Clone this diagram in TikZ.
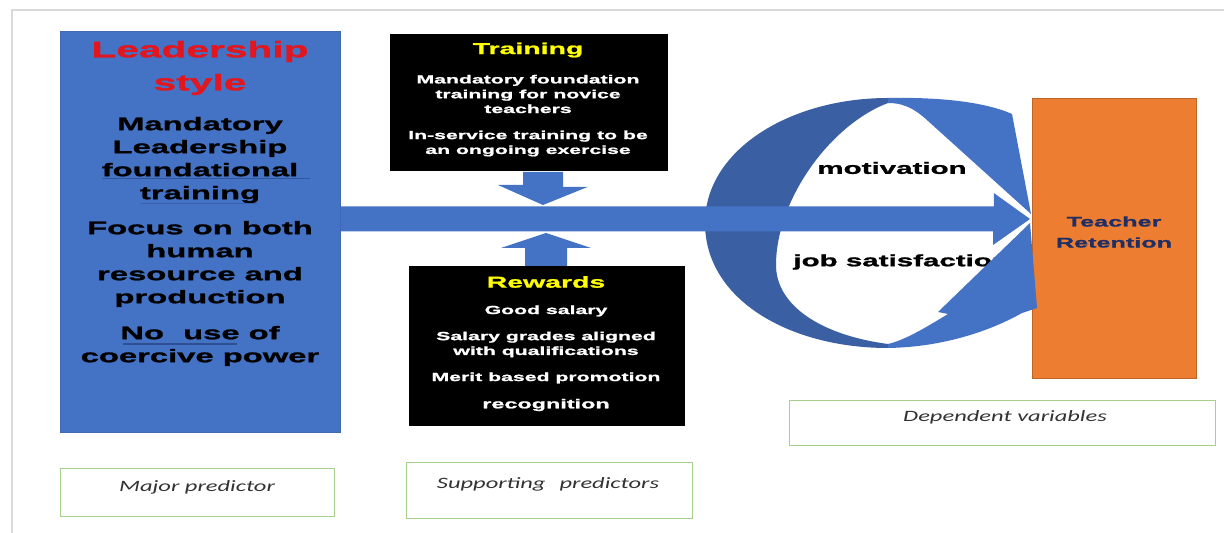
\documentclass[tikz,border=0pt]{standalone}
\usepackage{fontspec}
\usetikzlibrary{calc}
% wide sans faces
\newfontfamily\widesans[FakeStretch=1.8,FakeBold=1.3]{Liberation Sans}
\newfontfamily\wideital[FakeStretch=1.55]{Carlito}
\definecolor{LeadBlue}{HTML}{4472C4}
\definecolor{LeadEdge}{HTML}{3F68B5}
\definecolor{BackBlue}{HTML}{3A60A3}
\definecolor{TitleRed}{HTML}{E2161E}
\definecolor{TrainYellow}{HTML}{FFFF00}
\definecolor{RetOrange}{HTML}{ED7D31}
\definecolor{RetNavy}{HTML}{1F2F66}
\definecolor{TagGreen}{HTML}{A8D08D}
\definecolor{FrameGray}{HTML}{D9D9D9}
\definecolor{LabelGray}{HTML}{333333}
\definecolor{SpellBlue}{HTML}{2E4F92}

\begin{document}
\begin{tikzpicture}[x=0.5pt,y=-0.5pt,
    leadbox/.style={fill=LeadBlue,draw=LeadEdge,line width=0.4pt,anchor=north west},
    blackbox/.style={fill=black,anchor=north west},
    retbox/.style={fill=RetOrange,draw=RetOrange!80!black,line width=0.4pt,anchor=north west},
    tagbox/.style={fill=white,draw=TagGreen,line width=0.7pt,anchor=north west},
    leadtext/.style={inner sep=0pt,align=center,font=\widesans\bfseries\fontsize{9.1}{11.5}\selectfont},
    boxtitle/.style={inner sep=0pt,text=TrainYellow,font=\widesans\bfseries\fontsize{7.9}{9}\selectfont},
    boxtext/.style={inner sep=0pt,align=center,text=white,font=\widesans\bfseries\fontsize{5.9}{7.4}\selectfont},
    looptext/.style={inner sep=0pt,anchor=west,font=\widesans\bfseries\fontsize{8.2}{9}\selectfont},
    tagtext/.style={inner sep=0pt,text=LabelGray,font=\wideital\itshape\fontsize{7.9}{9}\selectfont},
    blockarrow/.style={fill=LeadBlue}
  ]
  \useasboundingbox (0,0) rectangle (1224,533);
  \fill[white] (0,0) rectangle (1224,533);
  \draw[FrameGray,line width=1pt] (12,533) -- (12,10) -- (1224,10);

  % major predictor
  \node[leadbox,minimum width=140pt,minimum height=200.5pt] (lead) at (60,31) {};
  \node[leadtext,text=TitleRed,font=\widesans\bfseries\fontsize{11.3}{16.5}\selectfont]
    (leadttl) at (200,68) {Leadership\\style};
  \node[leadtext] (leada) at (200,160) {Mandatory\\Leadership\\foundational\\training};
  \node[leadtext] (leadb) at (200,264) {Focus on both\\human\\resource and\\production};
  \node[leadtext] (leadc) at (200,346) {No\hspace{5pt} use of\\coercive power};
  \draw[SpellBlue!80!LeadBlue,line width=0.5pt] (102,179) -- (310,179);
  \draw[SpellBlue!50!LeadBlue,line width=0.5pt] (140,204) -- (257,204);
  \draw[SpellBlue,line width=0.6pt] (123,344) -- (237,344);

  % supporting predictors
  \node[blackbox,minimum width=139pt,minimum height=68.5pt] (train) at (390,34) {};
  \node[boxtitle] (trainttl) at (528,50) {Training};
  \node[boxtext] (traina) at (528,94) {Mandatory foundation\\training for novice\\teachers};
  \node[boxtext] (trainb) at (528,143.5) {In-service training to be\\an ongoing exercise};

  \node[blackbox,minimum width=138pt,minimum height=80pt] (reward) at (409,266) {};
  \node[boxtitle] (rewardttl) at (546,282) {Rewards};
  \node[boxtext] (rewarda) at (546,311) {Good salary};
  \node[boxtext] (rewardb) at (546,344.5) {Salary grades aligned\\with qualifications};
  \node[boxtext] (rewardc) at (546,378) {Merit based promotion};
  \node[boxtext,font=\widesans\bfseries\fontsize{6.5}{8}\selectfont] (rewardd) at (546,405) {recognition};

  % outcome
  \node[retbox,minimum width=82pt,minimum height=140pt] (ret) at (1032,98) {};
  \node[inner sep=0pt,align=center,text=RetNavy,font=\widesans\bfseries\fontsize{7}{10.5}\selectfont]
    (rettext) at (1114,232) {Teacher\\Retention};

  % arrows into the main shaft
  \coordinate (dntip) at (543,205);
  \fill[blockarrow] ($(dntip |- train.south)+(-20,0)$) -- ++(40,0) -- ++(0,15) -- ++(25,0)
    -- (dntip) -- ++(-45,-20) -- ++(25,0) -- cycle;
  \coordinate (uptip) at (546,233);
  \fill[blockarrow] (uptip) -- ++(45,15) -- ++(-24,0) -- ++(0,18) -- ++(-42,0)
    -- ++(0,-18) -- ++(-24,0) -- cycle;

  % circular loop behind the shaft
  \fill[BackBlue] (888,98) .. controls (790,98) and (705,150) .. (705,223)
    .. controls (705,300) and (790,348) .. (888,348) -- (888,344)
    .. controls (820,335) and (776,305) .. (776,265)
    .. controls (776,200) and (830,125) .. (888,103) -- cycle;
  \fill[blockarrow] (888,98) .. controls (940,97) and (985,102) .. (1012,114) -- (1031,214)
    -- (928,121) .. controls (912,106) and (900,103) .. (888,103) -- cycle;
  \node[looptext] (motiv) at (817,168) {motivation};
  \node[looptext] (jobsat) at (793,262) {job satisfaction};
  \fill[blockarrow] (888,348) .. controls (945,347) and (992,330) .. (1022,313) -- (1037,308)
    -- (1030,223) -- (938,312) -- (948,314)
    .. controls (925,328) and (905,340) .. (888,344) -- cycle;

  % main shaft
  \coordinate (htip) at (1030,219);
  \fill[blockarrow] ($(lead.east |- htip)+(0,-12.5)$) -- ++(653,0) -- ++(0,-13.5) -- (htip)
    -- ++(-37,26) -- ++(0,-13.5) -- ($(lead.east |- htip)+(0,12.5)$) -- cycle;

  % variable tags
  \node[tagbox,minimum width=137pt,minimum height=24pt] (major) at (60,468) {};
  \node[tagtext] (majortext) at (197,487) {Major predictor};
  \node[tagbox,minimum width=143pt,minimum height=28pt] (support) at (406,462) {};
  \node[tagtext] (supporttext) at (548,484) {Supporting\hspace{7pt}predictors};
  \node[tagbox,minimum width=213pt,minimum height=22.5pt] (depend) at (789,400) {};
  \node[tagtext] (dependtext) at (1005,417) {Dependent variables};
\end{tikzpicture}
\end{document}
